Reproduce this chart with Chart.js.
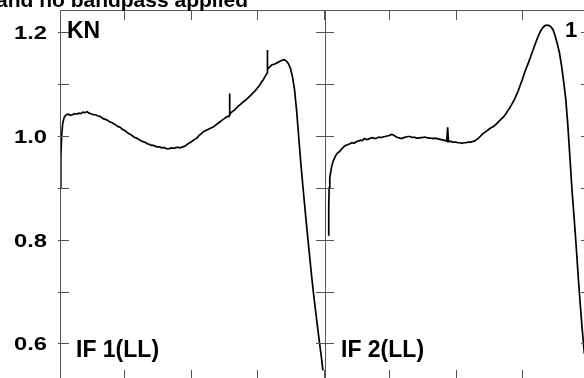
<!DOCTYPE html>
<html>
<head>
<meta charset="utf-8">
<script src="https://cdn.jsdelivr.net/npm/chart.js@4.4.1/dist/chart.umd.min.js"></script>
<style>
  html, body { margin: 0; padding: 0; background: #fff; overflow: hidden; width: 584px; height: 378px; }
  #c1, #c2 { position: absolute; top: 0; }
  #c1 { left: 0; }
  #c2 { left: 300px; }
</style>
</head>
<body>
<canvas id="c1" width="345" height="392"></canvas>
<canvas id="c2" width="300" height="392"></canvas>
<script>
// ---- data ----
const titleText = "and no bandpass applied";
const stationLabel = "KN";
const cornerLabel = "1";
const panelLabels = ["IF 1(LL)", "IF 2(LL)"];

const yTickValues = [0.6, 0.7, 0.8, 0.9, 1.0, 1.1, 1.2];
const yLabelValues = [0.6, 0.8, 1.0, 1.2];
const xTickValues = [32, 64, 96, 128];

const channels1 = [1, 1.4, 1.8, 2.3, 3, 4, 5, 6, 7, 8, 9, 10, 11, 12, 13, 14, 15, 16, 17, 18, 19, 20,
  21, 22, 23, 24, 25, 26, 27, 28, 29, 30, 31, 32, 33, 34, 35, 36, 37, 38, 39, 40,
  41, 42, 43, 44, 45, 46, 47, 48, 49, 50, 51, 52, 53, 54, 55, 56, 57, 58, 59, 60,
  61, 62, 63, 64, 65, 66, 67, 68, 69, 70, 71, 72, 73, 74, 75, 76, 77, 78, 79, 80,
  81, 82, 82.7, 82.75, 82.8, 83, 84, 85, 86, 87, 88, 89, 90, 91, 92, 93, 94, 95, 96, 97, 98, 99, 100,
  100.9, 100.95, 101, 102, 103, 104, 105, 106, 107, 108, 109, 110, 111, 112, 113, 114, 115, 116, 117,
  118, 119, 120, 121, 122, 123, 124, 125, 126, 127, 127.7];
const ifOne = [0.900, 0.960, 1.000, 1.024, 1.036, 1.041, 1.042, 1.040, 1.041, 1.043, 1.042, 1.044, 1.043, 1.046, 1.045, 1.047, 1.044, 1.043, 1.041, 1.041, 1.039, 1.038,
  1.036, 1.033, 1.032, 1.030, 1.027, 1.026, 1.023, 1.021, 1.018, 1.017, 1.013, 1.011, 1.008, 1.005, 1.003, 1.000, 0.997, 0.996, 0.993, 0.991,
  0.989, 0.988, 0.985, 0.984, 0.982, 0.982, 0.980, 0.979, 0.979, 0.977, 0.978, 0.976, 0.975, 0.976, 0.977, 0.976, 0.978, 0.978, 0.977, 0.979,
  0.980, 0.983, 0.986, 0.988, 0.991, 0.994, 0.996, 1.001, 1.004, 1.008, 1.010, 1.012, 1.014, 1.016, 1.018, 1.021, 1.024, 1.027, 1.030, 1.033,
  1.036, 1.038, 1.040, 1.082, 1.041, 1.043, 1.047, 1.050, 1.054, 1.058, 1.061, 1.065, 1.068, 1.071, 1.075, 1.079, 1.083, 1.087, 1.092, 1.097, 1.103, 1.109, 1.116,
  1.122, 1.166, 1.128, 1.133, 1.137, 1.138, 1.140, 1.142, 1.144, 1.146, 1.147, 1.145, 1.140, 1.131, 1.115, 1.090, 1.050, 1.000, 0.950,
  0.905, 0.862, 0.820, 0.780, 0.740, 0.702, 0.668, 0.635, 0.603, 0.572, 0.548];

const channels2 = [2.6, 2.8, 3.0, 3.3, 3.7, 4.2, 5, 6, 7, 8, 9, 10, 11, 12, 13, 14, 15, 16, 17, 18, 19, 20,
  21, 22, 23, 24, 25, 26, 27, 28, 29, 30, 31, 32, 33, 34, 35, 36, 37, 38, 39, 40,
  41, 42, 43, 44, 45, 46, 47, 48, 49, 50, 51, 52, 53, 54, 55, 56, 57, 58, 59, 59.7, 60.1, 60.5,
  61, 62, 63, 64, 65, 66, 67, 68, 69, 70, 71, 72, 73, 74, 75, 76, 77, 78, 79, 80,
  81, 82, 83, 84, 85, 86, 87, 88, 89, 90, 91, 92, 93, 94, 95, 96, 97, 98, 99, 100,
  101, 102, 103, 104, 105, 106, 107, 108, 109, 110, 111, 112, 113, 114, 115, 116, 117, 118, 119, 120,
  121, 122, 123, 124, 125, 126];
const ifTwo = [0.809, 0.860, 0.900, 0.918, 0.930, 0.941, 0.952, 0.961, 0.967, 0.970, 0.975, 0.979, 0.982, 0.983, 0.985, 0.987, 0.986, 0.989, 0.990, 0.992, 0.991, 0.995,
  0.993, 0.994, 0.996, 0.997, 0.995, 0.996, 0.998, 0.997, 0.998, 0.999, 1.000, 1.001, 1.003, 1.002, 0.999, 0.997, 0.996, 0.995, 0.997, 0.998,
  0.999, 0.999, 0.997, 0.998, 0.996, 0.996, 0.997, 0.997, 0.998, 0.997, 0.996, 0.996, 0.995, 0.996, 0.995, 0.994, 0.993, 0.992, 0.991, 0.990, 1.017, 0.989,
  0.990, 0.989, 0.988, 0.988, 0.987, 0.987, 0.986, 0.987, 0.987, 0.988, 0.988, 0.989, 0.990, 0.993, 0.996, 1.000, 1.004, 1.007, 1.010, 1.013,
  1.016, 1.018, 1.021, 1.025, 1.029, 1.033, 1.037, 1.042, 1.048, 1.054, 1.061, 1.068, 1.077, 1.086, 1.097, 1.108, 1.120, 1.131, 1.141, 1.152,
  1.163, 1.174, 1.185, 1.195, 1.203, 1.209, 1.213, 1.214, 1.213, 1.210, 1.204, 1.192, 1.177, 1.160, 1.135, 1.105, 1.072, 1.022, 0.960, 0.897,
  0.845, 0.790, 0.730, 0.675, 0.625, 0.580];

// ---- drawing ----
const FRAME = '#555';
const SANS = '"Liberation Sans", Arial, Helvetica, sans-serif';

function stretchedText(ctx, text, x, y, align, font, sx) {
  ctx.save();
  ctx.translate(x, y);
  ctx.scale(sx, 1);
  ctx.font = font;
  ctx.textAlign = align;
  ctx.textBaseline = 'alphabetic';
  ctx.fillText(text, 0, 0);
  ctx.restore();
}

function makeFramePlugin(panel) {
  return {
    id: 'frame' + panel,
    afterDraw(chart) {
      const ctx = chart.ctx;
      const a = chart.chartArea;
      const xs = chart.scales.x, ys = chart.scales.y;
      ctx.save();
      ctx.strokeStyle = FRAME;
      ctx.lineWidth = 1;
      ctx.beginPath();
      ctx.rect(Math.round(a.left) + 0.5, Math.round(a.top) + 0.5,
               Math.round(a.right) - Math.round(a.left), Math.round(a.bottom) - Math.round(a.top));
      yTickValues.forEach(v => {
        const py = Math.round(ys.getPixelForValue(v)) + 0.5;
        ctx.moveTo(a.left - 2, py); ctx.lineTo(a.left + 9, py);
        ctx.moveTo(a.right - 9, py); ctx.lineTo(a.right + 2, py);
      });
      xTickValues.forEach(v => {
        const px = Math.round(xs.getPixelForValue(v)) + 0.5;
        ctx.moveTo(px, a.top); ctx.lineTo(px, a.top + 10);
        ctx.moveTo(px, a.bottom); ctx.lineTo(px, a.bottom - 10);
      });
      ctx.stroke();

      ctx.fillStyle = '#000';
      const bigFont = 'bold 23px ' + SANS;
      if (panel === 0) {
        yLabelValues.forEach(v => {
          const py = ys.getPixelForValue(v);
          stretchedText(ctx, v.toFixed(1), a.left - 13, py + 7, 'right', 'bold 19px ' + SANS, 1.25);
        });
        stretchedText(ctx, stationLabel, a.left + 7, 38, 'left', bigFont, 1);
        stretchedText(ctx, titleText, 248, 7, 'right', 'bold 21px ' + SANS, 1);
      } else {
        stretchedText(ctx, cornerLabel, a.right - 25, 37, 'left', 'bold 22px ' + SANS, 1);
      }
      stretchedText(ctx, panelLabels[panel], a.left + 16, 357, 'left', bigFont, 1);
      ctx.restore();
    }
  };
}

function makeChart(id, panel, xs, ys, pad) {
  const pts = xs.map((c, i) => ({ x: c, y: ys[i] }));
  return new Chart(document.getElementById(id), {
    type: 'line',
    data: { datasets: [{ data: pts, borderColor: '#000', borderWidth: 1.7, pointRadius: 0, tension: 0, fill: false }] },
    options: {
      responsive: false,
      animation: false,
      events: [],
      layout: { padding: pad },
      plugins: { legend: { display: false }, tooltip: { enabled: false }, title: { display: false } },
      scales: {
        x: { type: 'linear', min: 1, max: 128.7, display: false },
        y: { type: 'linear', min: 0.5294, max: 1.243, display: false }
      }
    },
    plugins: [makeFramePlugin(panel)]
  });
}

makeChart('c1', 0, channels1, ifOne, { left: 60, right: 20, top: 10, bottom: 12 });
makeChart('c2', 1, channels2, ifTwo, { left: 25, right: 10, top: 10, bottom: 12 });
</script>
</body>
</html>
